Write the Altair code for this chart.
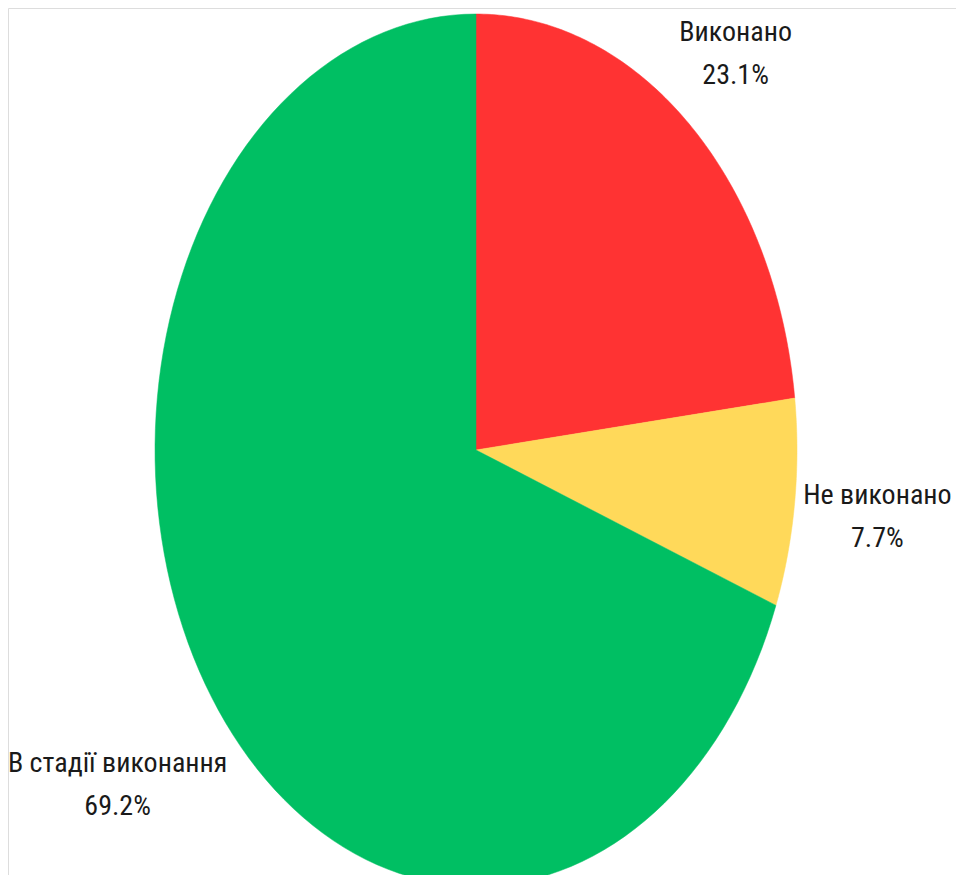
import altair as alt
import pandas as pd

categories = ["Виконано", "Не виконано", "В стадії виконання"]
values = [23.1, 7.7, 69.2]
colors = ["#FF3333", "#FFD95A", "#00BF63"]

df = pd.DataFrame({"cat": categories, "val": values, "idx": list(range(len(categories)))})

W, H = 948, 867
CX, CY = 468, 442      # pie centre in plot pixels
RX, RY = 321, 436      # pixels per unit radius (elliptical pie)
xdom = [-CX / RX, (W - CX) / RX]
ydom = [-(H - CY) / RY, CY / RY]

xs = alt.Scale(domain=xdom, nice=False, zero=False)
ys = alt.Scale(domain=ydom, nice=False, zero=False)

base = (
    alt.Chart(df)
    .transform_window(cum="sum(val)", sort=[alt.SortField("idx")], frame=[None, 0])
    .transform_joinaggregate(total="sum(val)")
    .transform_calculate(t0="(datum.cum - datum.val) / datum.total", t1="datum.cum / datum.total")
)

N = 120
slices = (
    base.transform_calculate(k=f"sequence(0, {N + 2})")
    .transform_flatten(["k"])
    .transform_calculate(ang=f"2 * PI * (datum.t0 + (datum.t1 - datum.t0) * min(datum.k, {N}) / {N})")
    .transform_calculate(
        px=f"datum.k == {N + 1} ? 0 : sin(datum.ang)",
        py=f"datum.k == {N + 1} ? 0 : cos(datum.ang)",
    )
    .mark_line(interpolate="linear-closed", filled=True, clip=True, strokeWidth=0.5)
    .encode(
        x=alt.X("px:Q", scale=xs, axis=None),
        y=alt.Y("py:Q", scale=ys, axis=None),
        color=alt.Color("cat:N", scale=alt.Scale(domain=categories, range=colors), legend=None),
        stroke=alt.Stroke("cat:N", scale=alt.Scale(domain=categories, range=colors), legend=None),
        order=alt.Order("k:Q"),
        detail="cat:N",
    )
)

labels = (
    base.transform_calculate(
        mid="PI * (datum.t0 + datum.t1)",
        ddx="35 + 4.4 * length(datum.cat)",
        ddy="46 + 6 * length(datum.cat)",
    )
    .transform_calculate(
        lx=f"sin(datum.mid) * (1 + datum.ddx / {RX})",
        ly=f"cos(datum.mid) * (1 + datum.ddy / {RY})",
        label="datum.cat + '\\n' + format(datum.val, '.1f') + '%'",
    )
    .mark_text(
        lineBreak="\n",
        fontSize=28,
        lineHeight=43,
        dy=-21,
        fontWeight="normal",
        font="Roboto Condensed, Liberation Sans Narrow, Arial Narrow, Roboto, sans-serif",
        align="center",
        baseline="middle",
        color="#1a1a1a",
    )
    .encode(
        x=alt.X("lx:Q", scale=xs, axis=None),
        y=alt.Y("ly:Q", scale=ys, axis=None),
        text="label:N",
    )
)

chart = (
    alt.layer(slices, labels)
    .properties(width=W, height=H, autosize=alt.AutoSizeParams(type="none"), padding=0)
    .configure_view(stroke="transparent", strokeWidth=0)
    .configure(background="white")
)

chart.save("out.html", embed_options={"renderer": "svg", "actions": False})
